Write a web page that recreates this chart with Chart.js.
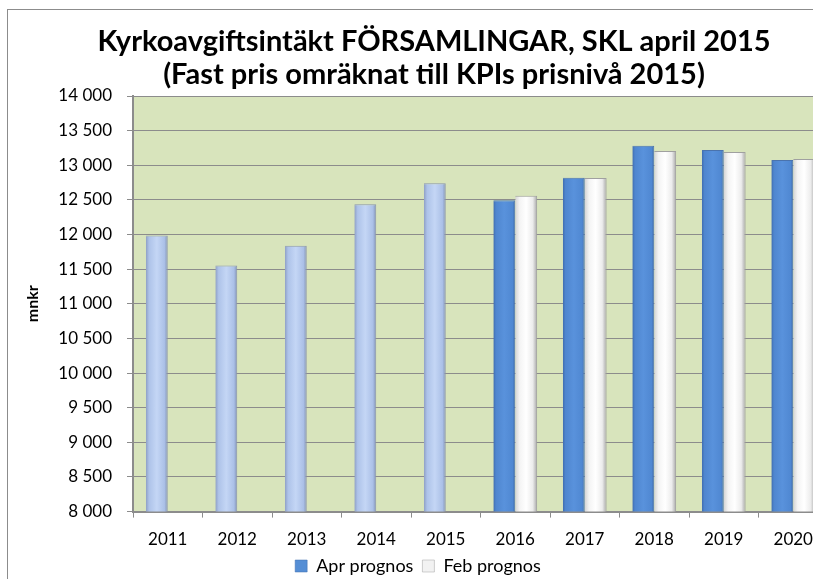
<!DOCTYPE html>
<html>
<head>
<meta charset="utf-8">
<script src="https://cdn.jsdelivr.net/npm/chart.js@4"></script>
<style>
  html, body { margin: 0; padding: 0; background: #fff; overflow: hidden; }
  #ram { position: absolute; left: 7px; top: 9px; width: 903px; height: 600px;
         border-left: 1px solid #8c8c8c; border-top: 1px solid #8c8c8c; }
  #diagram { position: absolute; left: 0; top: 0; }
</style>
</head>
<body>
<div id="ram"><canvas id="diagram" width="902" height="582"></canvas></div>
<script>
// Data
var ar = ['2011', '2012', '2013', '2014', '2015', '2016', '2017', '2018', '2019', '2020'];
var aprPrognos = [11985, 11552, 11837, 12438, 12740, 12495, 12820, 13280, 13220, 13075];
var febPrognos = [null, null, null, null, null, 12560, 12815, 13205, 13190, 13090];
var antalUtfall = 5; // 2011-2015 är utfall (ljusare staplar)

var titelRader = ['Kyrkoavgiftsintäkt FÖRSAMLINGAR, SKL april 2015',
                  '(Fast pris omräknat till KPIs prisnivå 2015)'];

function tusental(v) {
    return String(v).replace(/\B(?=(\d{3})+(?!\d))/g, ' ');
}

// Grön bakgrund i diagramytan
var bakgrund = {
    id: 'bakgrund',
    beforeDraw: function (chart) {
        var a = chart.chartArea, ctx = chart.ctx;
        ctx.save();
        ctx.fillStyle = '#d8e4bc';
        ctx.fillRect(a.left, a.top, a.right - a.left, a.bottom - a.top);
        ctx.restore();
    }
};

// Cylinderliknande toning på staplarna
var toning = {
    id: 'toning',
    beforeDatasetsDraw: function (chart) {
        var ctx = chart.ctx;
        chart.data.datasets.forEach(function (ds, di) {
            var meta = chart.getDatasetMeta(di);
            meta.data.forEach(function (bar, i) {
                if (bar.width === undefined || isNaN(bar.x)) return;
                var x0 = bar.x - bar.width / 2, x1 = bar.x + bar.width / 2;
                var g = ctx.createLinearGradient(x0, 0, x1, 0);
                var kant;
                if (di === 0 && i < antalUtfall) {
                    g.addColorStop(0, '#8e9fc4');
                    g.addColorStop(0.15, '#aec3e9');
                    g.addColorStop(0.5, '#c4d6f5');
                    g.addColorStop(0.85, '#abc0e7');
                    g.addColorStop(1, '#7f8fb3');
                    kant = '#8b97ad';
                } else if (di === 0) {
                    g.addColorStop(0, '#3f6cae');
                    g.addColorStop(0.12, '#4f86cf');
                    g.addColorStop(0.5, '#5992dc');
                    g.addColorStop(0.88, '#5088d2');
                    g.addColorStop(1, '#3e68a6');
                    kant = '#4a73ad';
                } else {
                    g.addColorStop(0, '#d4d4d4');
                    g.addColorStop(0.2, '#f4f4f4');
                    g.addColorStop(0.5, '#ffffff');
                    g.addColorStop(0.8, '#ececec');
                    g.addColorStop(1, '#a6a6a6');
                    kant = '#a0a0a0';
                }
                bar.options = Object.assign({}, bar.options, { backgroundColor: g, borderColor: kant });
            });
        });
    }
};

// Rubrik i två rader
var rubrik = {
    id: 'rubrik',
    afterDraw: function (chart) {
        var ctx = chart.ctx;
        ctx.save();
        ctx.fillStyle = '#000';
        ctx.textAlign = 'center';
        ctx.textBaseline = 'middle';
        ctx.font = 'bold 29px Lato';
        ctx.fillText(titelRader[0], 426, 32);
        ctx.fillText(titelRader[1], 426, 65);
        ctx.restore();
    }
};

var ctxDiagram = document.getElementById('diagram').getContext('2d');
var diagram = new Chart(ctxDiagram, {
    type: 'bar',
    data: {
        labels: ar,
        datasets: [{
            label: 'Apr prognos',
            data: aprPrognos,
            backgroundColor: '#558ed5',
            borderColor: '#3f6cae',
            borderWidth: { left: 0, right: 1, top: 1, bottom: 0 },
            borderSkipped: false
        }, {
            label: 'Feb prognos',
            data: febPrognos,
            backgroundColor: '#f2f2f2',
            borderColor: '#a0a0a0',
            borderWidth: { left: 0, right: 1, top: 1, bottom: 0 },
            borderSkipped: false
        }]
    },
    options: {
        responsive: false,
        animation: false,
        categoryPercentage: 0.63,
        barPercentage: 1.0,
        layout: { padding: { top: 86, right: 82, left: 0, bottom: 7 } },
        plugins: {
            title: { display: false },
            tooltip: { enabled: false },
            legend: {
                position: 'bottom',
                labels: {
                    font: { family: 'Lato', size: 18 },
                    color: '#000',
                    boxWidth: 12,
                    boxHeight: 12,
                    padding: 9
                }
            }
        },
        scales: {
            x: {
                grid: {
                    drawOnChartArea: false,
                    drawTicks: true,
                    tickLength: 6,
                    tickColor: '#8c8c8c',
                    offset: true
                },
                border: { color: '#8c8c8c', width: 2 },
                ticks: {
                    font: { family: 'Lato', size: 17 },
                    color: '#000',
                    padding: 12,
                    maxRotation: 0
                },
                afterFit: function (scale) { scale.height = scale.height - 14; }
            },
            y: {
                min: 8000,
                max: 14000,
                grid: {
                    color: '#8c8c8c',
                    lineWidth: 1,
                    tickLength: 6
                },
                border: { color: '#8c8c8c', width: 2 },
                ticks: {
                    stepSize: 500,
                    font: { family: 'Lato', size: 17 },
                    color: '#000',
                    padding: 15,
                    callback: function (v) { return tusental(v); }
                },
                title: {
                    display: true,
                    text: 'mnkr',
                    font: { family: 'Lato', size: 16, weight: 'bold' },
                    color: '#000',
                    padding: { top: 15, bottom: 0 }
                },
                afterFit: function (scale) { scale.width = 125; }
            }
        }
    },
    plugins: [bakgrund, toning, rubrik]
});
</script>
</body>
</html>
